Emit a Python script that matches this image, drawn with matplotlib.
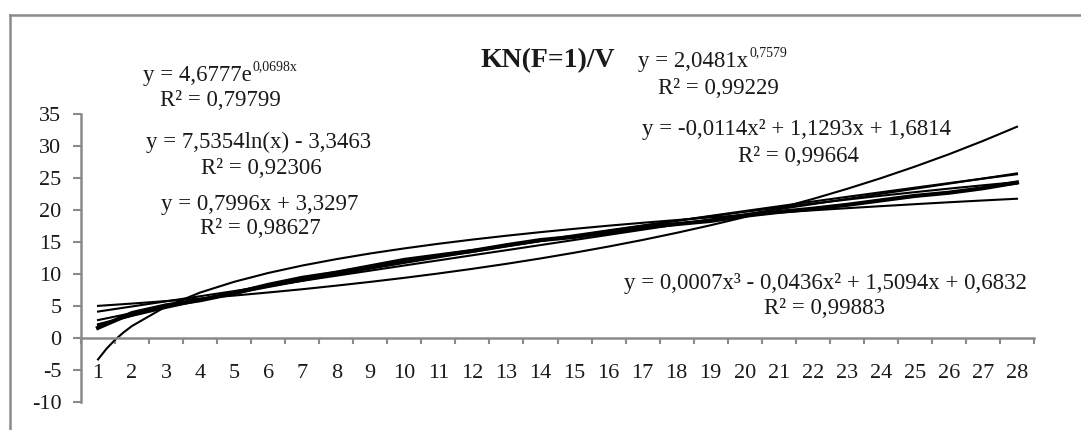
"""
KN(F=1)/V with Excel-style trendlines (exp, log, linear, power, poly2, poly3).
Writes out.png (1081x430).
"""
import matplotlib
matplotlib.use("Agg")
import matplotlib.pyplot as plt
from matplotlib.lines import Line2D

plt.rcParams["font.family"] = ["Liberation Serif", "DejaVu Serif"]

# ---- data ----
x_days = list(range(1, 29))
x_labels = [str(v) for v in x_days]

observed = [1.6, 3.9, 5.1, 5.9, 7.0, 8.3, 9.4, 10.2, 11.2, 12.2, 12.9, 13.6, 14.5, 15.3,
            15.8, 16.5, 17.3, 17.8, 18.3, 19.1, 19.7, 20.2, 20.8, 21.5, 22.2, 22.7, 23.4, 24.3]

trend_exp = [5.02, 5.38, 5.77, 6.18, 6.63, 7.11, 7.62, 8.18, 8.77, 9.40, 10.08, 10.81, 11.59, 12.43,
             13.33, 14.29, 15.32, 16.43, 17.62, 18.89, 20.26, 21.72, 23.29, 24.97, 26.78, 28.71, 30.79, 33.01]

x_log = [1, 1.25, 1.5, 1.75] + list(range(2, 29))
trend_log = [-3.35, -1.67, -0.29, 0.87, 1.88, 4.93, 7.10, 8.78, 10.16, 11.32, 12.32, 13.21, 14.00, 14.72,
             15.38, 15.98, 16.54, 17.06, 17.55, 18.00, 18.43, 18.84, 19.23, 19.60, 19.95, 20.28,
             20.60, 20.91, 21.21, 21.49, 21.76]

trend_lin = [4.13, 4.93, 5.73, 6.53, 7.33, 8.13, 8.93, 9.73, 10.53, 11.33, 12.13, 12.93, 13.72, 14.52,
             15.32, 16.12, 16.92, 17.72, 18.52, 19.32, 20.12, 20.92, 21.72, 22.52, 23.32, 24.12, 24.92, 25.72]

trend_pow = [2.05, 3.46, 4.71, 5.86, 6.94, 7.96, 8.95, 9.90, 10.83, 11.73, 12.61, 13.47, 14.31, 15.14,
             15.95, 16.75, 17.54, 18.31, 19.08, 19.84, 20.58, 21.32, 22.05, 22.77, 23.49, 24.20, 24.90, 25.59]

trend_poly2 = [2.80, 3.89, 4.97, 6.02, 7.04, 8.05, 9.03, 9.99, 10.92, 11.83, 12.72, 13.59, 14.44, 15.26,
               16.06, 16.83, 17.58, 18.32, 19.02, 19.71, 20.37, 21.01, 21.62, 22.22, 22.79, 23.34, 23.86, 24.36]

trend_poly3 = [2.15, 3.53, 4.84, 6.07, 7.23, 8.32, 9.35, 10.33, 11.25, 12.12, 12.94, 13.73, 14.47, 15.19,
               15.88, 16.54, 17.18, 17.81, 18.42, 19.03, 19.64, 20.24, 20.85, 21.47, 22.11, 22.76, 23.43, 24.13]

y_ticks = list(range(-10, 36, 5))

# (base text, superscript, centre x px, centre y px)
equations = [
    ("y = 4,6777e", "0,0698x", 220, 76),
    ("R² = 0,79799", "", 220, 101),
    ("y = 7,5354ln(x) - 3,3463", "", 259, 142),
    ("R² = 0,92306", "", 261, 168),
    ("y = 0,7996x + 3,3297", "", 260, 205),
    ("R² = 0,98627", "", 260, 229),
    ("y = 2,0481x", "0,7579", 712, 62),
    ("R² = 0,99229", "", 718, 88),
    ("y = -0,0114x² + 1,1293x + 1,6814", "", 797, 130),
    ("R² = 0,99664", "", 798, 156),
    ("y = 0,0007x³ - 0,0436x² + 1,5094x + 0,6832", "", 825, 283),
    ("R² = 0,99883", "", 824, 308),
]

W, H = 1081, 430
fig = plt.figure(figsize=(W / 100, H / 100), dpi=100)
ax = fig.add_axes([81 / W, 1 - 402 / H, 953 / W, (402 - 114) / H])

grey = "#8a8a8a"
ink = "#1a1a1a"

ax.plot(x_days, observed, color="black", linewidth=3.0)
for vals in (trend_exp, trend_lin, trend_pow, trend_poly2, trend_poly3):
    ax.plot(x_days, vals, color="black", linewidth=1.5)
ax.plot(x_log, trend_log, color="black", linewidth=1.5)

ax.set_xlim(0.5, 28.5)
ax.set_ylim(-10, 35)
for side in ("top", "right"):
    ax.spines[side].set_visible(False)
ax.spines["bottom"].set_position(("data", 0))
for side in ("left", "bottom"):
    ax.spines[side].set_color(grey)
    ax.spines[side].set_linewidth(1.8)

ax.set_yticks(y_ticks)
ax.set_yticklabels([str(v) for v in y_ticks])
ax.tick_params(axis="y", direction="out", length=6, width=1.5, color=grey,
               pad=8, labelsize=16, labelcolor=ink)

ax.set_xticks([v + 0.5 for v in range(0, 29)])
ax.set_xticklabels([])
ax.tick_params(axis="x", which="major", direction="out", length=4, width=1.5, color=grey)
ax.set_xticks(x_days, minor=True)
ax.set_xticklabels(x_labels, minor=True)
ax.tick_params(axis="x", which="minor", length=0, pad=19, labelsize=16, labelcolor=ink)

fig.text(548 / W, 1 - 61 / H, "KN(F=1)/V", ha="center", va="center",
         fontsize=20, fontweight="bold", color=ink)

for base, sup, cx, cy in equations:
    t = fig.text(cx / W, 1 - cy / H, base, ha="center", va="center", fontsize=16.5, color=ink)
    if sup:
        # shift base left so base+superscript stays centred
        fig.canvas.draw()
        r = fig.canvas.get_renderer()
        sup_t = fig.text(0, 0, sup, fontsize=10, color=ink)
        sw = sup_t.get_window_extent(r).width
        bw = t.get_window_extent(r).width
        t.set_x((cx - sw / 2) / W)
        sup_t.set_position(((cx - sw / 2 + bw / 2 + 1) / W, 1 - (cy - 3) / H))
        sup_t.set_va("bottom")

# chart frame (only top and left edges are inside the crop)
fig.add_artist(Line2D([10 / W, 10 / W], [0, 1 - 15 / H], color=grey, linewidth=1.8))
fig.add_artist(Line2D([10 / W, 1], [1 - 15 / H, 1 - 15 / H], color=grey, linewidth=1.8))

fig.savefig("out.png", dpi=100)
